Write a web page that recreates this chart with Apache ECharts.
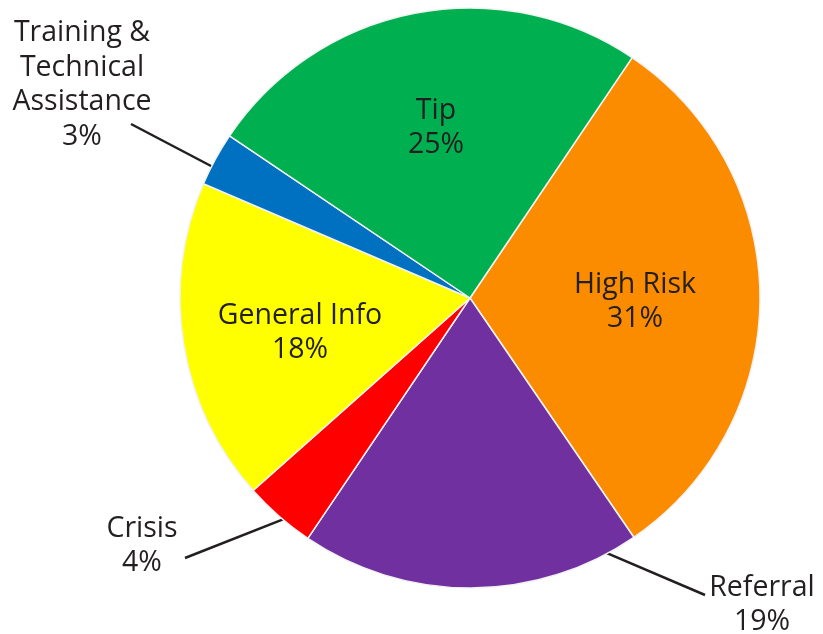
<!DOCTYPE html>
<html>
<head>
<meta charset="utf-8">
<script src="https://cdn.jsdelivr.net/npm/echarts@6/dist/echarts.min.js"></script>
<style>
html,body{margin:0;padding:0;background:#fff;}
#chart{width:823px;height:634px;}
</style>
</head>
<body>
<div id="chart"></div>
<script>
// Data
var categories = ['High Risk', 'Referral', 'Crisis', 'General Info', 'Training &\nTechnical\nAssistance', 'Tip'];
var values = [31, 19, 4, 18, 3, 25];
var colors = ['#FB8C00', '#7030A0', '#FF0000', '#FFFF00', '#0070C0', '#00B050'];

// Layout (label placement, not data)
var CX = 470, CY = 298, R = 290;
var labelPlaces = [
  { x: 635, y: 302 },                              // High Risk (inside)
  { x: 762, y: 605, lineAngle: 152, lineEnd: [705, 595] }, // Referral
  { x: 142, y: 546, lineAngle: 220, lineEnd: [185, 558] }, // Crisis
  { x: 300, y: 333 },                              // General Info (inside)
  { x: 82, y: 85, lineAngle: 297, lineEnd: [131, 124] },   // Training
  { x: 436, y: 128 }                               // Tip (inside)
];

var data = categories.map(function (c, i) {
  var outer = labelPlaces[i].lineAngle !== undefined;
  return {
    name: c,
    value: values[i],
    itemStyle: { color: colors[i] },
    label: { position: outer ? 'outside' : 'inside' },
    labelLine: { show: outer, lineStyle: { color: '#231f20', width: 2.5 } }
  };
});

var chart = echarts.init(document.getElementById('chart'), null, { renderer: 'canvas' });
chart.setOption({
  backgroundColor: '#ffffff',
  animation: false,
  series: [{
    type: 'pie',
    center: [CX, CY],
    radius: [0, R],
    startAngle: 56,
    clockwise: true,
    data: data,
    itemStyle: { borderColor: '#f2f2f2', borderWidth: 1.5 },
    label: {
      show: true,
      formatter: function (p) { return p.name + '\n' + p.value + '%'; },
      fontFamily: '"Open Sans", sans-serif',
      fontSize: 28.5,
      lineHeight: 34.5,
      color: '#231f20',
      align: 'center',
      overflow: 'none'
    },
    labelLine: { show: true, length: 20, length2: 0 },
    labelLayout: function (params) {
      var lp = labelPlaces[params.dataIndex];
      var res = { x: lp.x, y: lp.y, align: 'center', verticalAlign: 'middle' };
      if (lp.lineAngle !== undefined) {
        var a = lp.lineAngle * Math.PI / 180;
        res.labelLinePoints = [
          [CX + (R - 2) * Math.sin(a), CY - (R - 2) * Math.cos(a)],
          lp.lineEnd,
          lp.lineEnd
        ];
      }
      return res;
    }
  }]
});
</script>
</body>
</html>
